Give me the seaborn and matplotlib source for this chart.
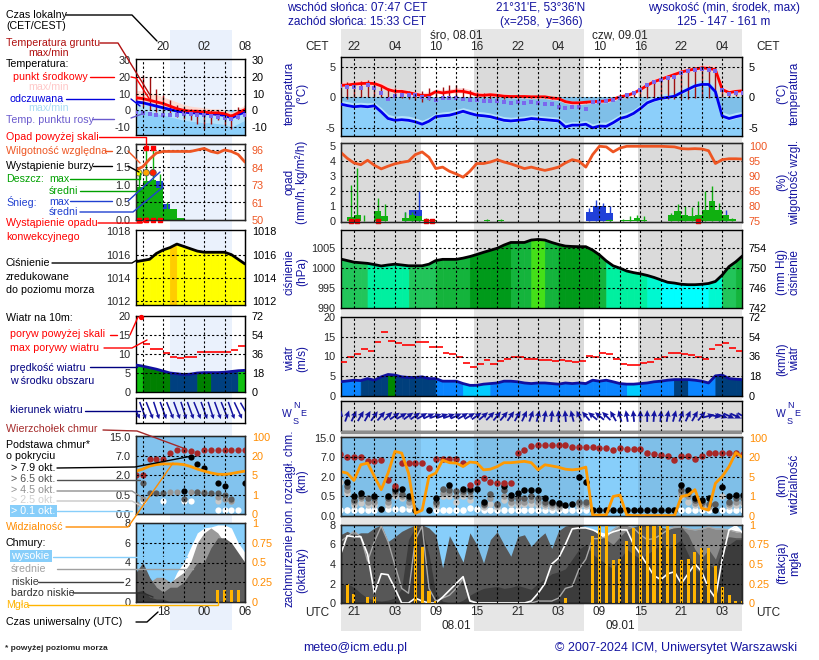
import numpy as np
import matplotlib
matplotlib.use("Agg")
import matplotlib.pyplot as plt
import seaborn as sns
from matplotlib.lines import Line2D
from matplotlib.patches import Rectangle
from matplotlib.transforms import blended_transform_factory

sns.set_style("white")
plt.rcParams['font.family'] = ['Liberation Sans', 'DejaVu Sans']
plt.rcParams['axes.unicode_minus'] = False

nan = np.nan
NAVY = '#1414a0'

# ---------------- main meteogram data (hourly, UTC hours from 08.01 00:00) ----------------
hours = np.arange(-5, 55)
sunrise = [6.78, 30.77]
sunset = [14.55, 38.58]
label_t = [-3, 3, 9, 15, 21, 27, 33, 39, 45, 51]
cet_labels = ['22', '04', '10', '16', '22', '04', '10', '16', '22', '04']
utc_labels = ['21', '03', '09', '15', '21', '03', '09', '15', '21', '03']
day_t = [12, 36]
cet_days = ['śro, 08.01', 'czw, 09.01']
utc_days = ['08.01', '09.01']

# temperature (°C)
t_mid = [2.0, 2.05, 2.2, 2.3, 2.35, 2.3, 1.9, 1.3, 1.0, 1.0,
         0.8, 0.55, 0.3, 0.35, 0.95, 0.75, 0.9, 1.05, 1.0, 0.75,
         0.4, 0.35, 0.45, 0.35, 0.2, 0.15, 0.15, 0.15, 0.1, 0.1,
         0.1, -0.1, -0.2, -0.7, -0.9, -0.9, -0.8, -0.7, -0.65, -0.6,
         -0.3, 0.1, 0.3, 0.7, 1.3, 2.0, 2.6, 3.0, 3.4, 3.8,
         4.2, 4.5, 4.7, 4.9, 4.8, 4.6, 1.3, 0.8, 1.0, 1.1]
t_max = [2.6, 2.7, 2.8, 2.9, 3.0, 2.9, 2.5, 1.9, 1.5, 1.4,
         1.2, 1.0, 0.8, 0.9, 1.4, 1.3, 1.4, 1.6, 1.6, 1.3,
         0.9, 0.8, 0.8, 0.7, 0.6, 0.5, 0.5, 0.5, 0.4, 0.4,
         0.4, 0.2, 0.1, -0.4, -0.6, -0.6, -0.5, -0.4, -0.4, -0.3,
         0.0, 0.4, 0.7, 1.1, 1.8, 2.5, 3.1, 3.5, 3.9, 4.3,
         4.7, 5.0, 5.2, 5.4, 5.4, 5.3, 2.0, 1.3, 1.4, 1.5]
t_min = [1.8, 1.8, 1.9, 2.0, 2.0, 1.9, 1.6, 1.0, 0.7, 0.7,
         0.5, 0.3, 0.0, 0.1, 0.7, 0.5, 0.6, 0.8, 0.7, 0.5,
         0.2, 0.1, 0.2, 0.1, 0.0, -0.1, -0.1, -0.1, -0.2, -0.2,
         -0.2, -0.4, -0.5, -1.0, -1.2, -1.2, -1.1, -1.0, -0.9, -0.9,
         -0.6, -0.2, 0.0, 0.4, 1.0, 1.7, 2.3, 2.7, 3.1, 3.5,
         3.9, 4.2, 4.4, 4.6, 4.5, 4.2, 1.0, 0.5, 0.7, 0.8]
t_feel = [-1.1, -1.35, -1.55, -1.45, -1.55, -1.4, -2.4, -3.5, -3.8, -3.7,
          -3.8, -4.05, -4.45, -3.95, -3.2, -3.05, -2.95, -2.65, -2.3, -2.65,
          -2.95, -3.05, -3.2, -3.5, -3.8, -3.9, -3.8, -3.7, -3.5, -3.6,
          -3.7, -3.8, -3.9, -4.9, -4.6, -4.6, -4.45, -5.05, -4.75, -4.8,
          -4.2, -3.5, -3.2, -2.65, -1.85, -0.9, -0.45, -0.15, 0.0, 0.2,
          0.8, 1.35, 1.9, 2.15, 2.15, 0.95, -3.1, -3.5, -3.2, -2.95]
f_max = [-0.5, -0.7, -0.9, -0.8, -0.9, -0.8, -1.7, -2.8, -3.1, -3.0,
         -3.1, -3.4, -3.8, -3.3, -2.6, -2.4, -2.3, -2.0, -1.7, -2.0,
         -2.3, -2.4, -2.6, -2.9, -3.2, -3.3, -3.2, -3.1, -2.9, -3.0,
         -3.1, -3.2, -3.3, -4.2, -4.0, -4.0, -3.8, -4.4, -4.1, -4.1,
         -3.5, -2.8, -2.5, -2.0, -1.2, -0.3, 0.2, 0.5, 0.7, 0.9,
         1.5, 2.0, 2.6, 2.9, 2.9, 1.7, -2.4, -2.8, -2.5, -2.3]
f_min = [-1.4, -1.6, -1.8, -1.7, -1.8, -1.7, -2.7, -3.8, -4.1, -4.0,
         -4.1, -4.3, -4.7, -4.2, -3.5, -3.3, -3.2, -2.9, -2.6, -2.9,
         -3.2, -3.3, -3.5, -3.8, -4.1, -4.2, -4.1, -4.0, -3.8, -3.9,
         -4.0, -4.1, -4.2, -5.2, -4.9, -4.9, -4.7, -5.3, -5.0, -5.1,
         -4.5, -3.8, -3.5, -2.9, -2.1, -1.2, -0.7, -0.4, -0.3, -0.1,
         0.5, 1.1, 1.6, 1.9, 1.9, 0.7, -3.4, -3.8, -3.5, -3.2]
t_dew = [1.9, 1.8, 1.65, 1.5, 2.05, 1.5, 0.8, -0.2, 0.2, 0.4,
         0.45, 0.4, 0.1, -0.05, -0.45, -0.15, -0.05, -0.05, -0.3, -0.45,
         -0.45, -0.55, -0.6, -0.6, -0.7, -0.85, -0.7, -0.9, -0.8, -1.0,
         -1.1, -1.1, -1.55, -1.7, -1.55, -1.65, -1.85, -0.7, -0.7, -0.6,
         -0.45, -0.05, 0.4, 0.8, 1.3, 2.05, 2.5, 2.9, 3.2, 3.45,
         4.0, 4.3, 4.55, 4.65, 4.55, 4.3, 1.2, 0.55, 0.65, 0.65]
g_max = [2.5, 2.6, 2.6, 2.7, 2.9, 2.4, 2.0, 1.5, 1.5, 1.3,
         1.0, 0.8, 1.0, 1.5, 1.0, 1.8, 2.0, 2.0, 1.5, 1.2,
         0.9, 0.7, 0.5, 0.4, 0.3, 0.2, 0.2, 0.2, 0.2, 0.1,
         0.1, 0.0, -0.1, -0.6, -0.8, -0.8, -0.7, -0.6, -0.5, -0.3,
         0.0, 0.3, 0.6, 1.0, 1.6, 2.3, 2.9, 3.3, 3.7, 4.1,
         4.5, 4.8, 5.0, 5.2, 5.2, 5.0, 1.5, 1.0, 1.2, 1.2]
g_min = [-0.2, -0.2, 0.0, 0.0, 0.1, 0.1, 0.0, 0.0, -0.1, -0.1,
         -0.2, -0.4, -0.7, -0.4, -0.2, -0.1, 0.0, 0.0, 0.0, -0.2,
         -0.3, -0.3, -0.2, -0.2, -0.2, -0.1, -0.1, -0.1, -0.1, -0.1,
         -0.1, -0.3, -0.4, -0.8, -1.0, -1.0, -0.9, -0.8, -0.7, -0.5,
         -0.3, -0.2, -0.1, 0.0, 0.0, -0.1, -0.1, -0.2, -0.2, -0.2,
         -0.2, -0.2, -0.1, -0.1, -0.1, 0.0, 0.0, 0.1, 0.3, 0.3]

# precipitation (mm/h) and relative humidity (%)
rain_mean = [0, 0.22, 0.36, 0, 0, 0.63, 0.3, 0, 0, 0.15,
             0.4, 0.3, 0.05, 0.02, 0, 0, 0, 0, 0, 0,
             0, 0.02, 0, 0.02, 0, 0, 0, 0, 0, 0,
             0, 0, 0, 0, 0, 0, 0, 0, 0, 0.02,
             0, 0.02, 0.05, 0.15, 0.05, 0, 0, 0, 0.36, 0.67,
             0.4, 0.3, 0.36, 0.75, 1.3, 0.75, 0.35, 0.1, 0, 0]
rain_max = [0, 2.4, 3.55, 0.35, 0, 1.5, 1.15, 0, 0, 0.6,
            0.6, 0.25, 0.2, 0.1, 0, 0, 0, 0, 0, 0,
            0, 0.1, 0, 0.1, 0, 0, 0, 0, 0, 0,
            0, 0, 0, 0, 0, 0, 0, 0, 0, 0.1,
            0, 0.1, 0.3, 0.4, 0.3, 0, 0, 0, 0.5, 1.1,
            1.0, 0.9, 1.3, 2.0, 2.3, 1.2, 0.4, 0.2, 0, 0]
snow_mean = [0, 0, 0, 0, 0, 0, 0, 0, 0, 0.1,
             0.7, 0.7, 0, 0, 0, 0, 0, 0, 0, 0,
             0, 0, 0, 0, 0, 0, 0, 0, 0, 0,
             0, 0, 0, 0, 0, 0, 0.55, 1.0, 0.98, 0.5,
             0, 0, 0, 0, 0, 0, 0, 0, 0, 0,
             0, 0, 0, 0, 0, 0.05, 0, 0, 0, 0]
snow_max = [0, 0, 0, 0, 0, 0, 0, 0, 0, 0.6,
            0.75, 2.0, 0, 0, 0, 0, 0, 0, 0, 0,
            0, 0, 0, 0, 0, 0, 0, 0, 0, 0,
            0, 0, 0, 0, 0, 0, 0.85, 1.4, 1.2, 1.0,
            0, 0, 0, 0, 0, 0, 0, 0, 0, 0,
            0, 0, 0, 0, 0, 0.75, 0.7, 0, 0, 0]
conv_t = [-3.5, -2.5, 0.5, 7.5, 8.5, 47.5]
rh = [98.1, 96.0, 94.4, 93.8, 95.3, 93.6, 92.4, 93.3, 94.1, 94.6,
      95.0, 97.2, 98.1, 96.3, 92.5, 93.0, 91.6, 90.7, 89.6, 91.6,
      94.2, 94.2, 94.7, 95.5, 94.7, 94.1, 93.3, 92.5, 93.0, 92.4,
      91.9, 92.4, 93.0, 94.4, 95.5, 95.0, 93.0, 97.2, 100.0, 99.8,
      98.1, 99.4, 100.0, 100.0, 100.0, 100.0, 100.0, 100.0, 99.9, 99.8,
      99.2, 99.1, 99.2, 99.1, 98.5, 94.2, 95.5, 95.8, 95.8, 95.7]

# sea level pressure (hPa) and colour class of the fill
pres = [1002.2, 1001.8, 1001.4, 1001.25, 1001.1, 1000.8, 1000.45, 1000.7, 1000.9, 1000.7,
        1000.5, 1000.5, 1000.5, 1000.9, 1001.8, 1002.1, 1002.1, 1002.1, 1002.4, 1002.8,
        1003.3, 1003.85, 1004.35, 1004.85, 1005.65, 1006.3, 1006.3, 1006.3, 1006.9, 1007.05,
        1006.9, 1006.3, 1005.8, 1005.4, 1005.3, 1005.25, 1005.25, 1004.4, 1003.2, 1001.7,
        1000.5, 999.9, 999.2, 998.8, 998.5, 998.1, 997.6, 997.0, 996.4, 996.2,
        995.9, 995.8, 995.8, 995.9, 996.1, 996.6, 998.2, 1000.3, 1001.5, 1003.0]
p_ticks = [990, 995, 1000, 1005]
p_mmhg = ['742', '746', '750', '754']
p_pal = ['#00ffff', '#00f0a0', '#22c55a', '#14b43c', '#009a1a', '#44e018', '#00f8d0']
p_col = [2, 2, 2, 2, 1, 1, 1, 1, 1, 1,
         2, 2, 2, 2, 3, 3, 3, 3, 3, 4,
         4, 4, 4, 4, 4, 3, 3, 3, 5, 5,
         3, 3, 4, 4, 4, 4, 4, 4, 3, 1,
         1, 1, 1, 1, 1, 6, 6, 0, 0, 0,
         0, 0, 0, 0, 6, 6, 2, 2, 3, 3]

# wind (m/s), gusts and direction the arrow points to (deg)
wind = [3.6, 3.8, 4.0, 3.9, 4.4, 4.0, 4.85, 5.45, 5.3, 4.85,
        4.7, 4.7, 4.85, 4.4, 4.4, 3.75, 3.75, 3.75, 3.15, 2.7,
        2.7, 3.0, 3.15, 3.3, 3.75, 3.75, 3.6, 3.3, 3.15, 3.3,
        3.3, 3.15, 3.0, 3.3, 3.15, 3.3, 3.15, 4.0, 3.75, 4.0,
        3.6, 3.15, 3.0, 3.0, 3.15, 3.3, 3.6, 3.75, 4.0, 4.15,
        4.15, 4.15, 4.0, 3.75, 3.3, 5.1, 5.3, 4.4, 4.25, 4.15]
gust = [8.5, 9.8, 10.7, 11.9, 11.4, 13.7, 16.3, 14.0, 13.3, 12.8,
        12.8, 13.7, 13.7, 12.4, 12.4, 10.9, 10.7, 9.8, 8.3, 7.3,
        8.1, 9.0, 8.1, 8.9, 9.4, 9.8, 9.8, 9.4, 9.4, 9.0,
        9.0, 8.75, 9.0, 8.75, 8.5, 8.75, 10.2, 10.0, 10.9, 10.7,
        9.4, 8.1, 7.9, 7.9, 8.3, 8.5, 9.4, 10.0, 10.9, 10.9,
        10.7, 10.5, 10.0, 9.4, 11.9, 12.8, 13.4, 12.2, 11.4, 11.4]
w_pal = {'b': '#0a84ff', 'n': '#003f7c', 'g': '#008800', 'c': '#00ccff'}
w_col = ['b', 'b', 'b', 'n', 'n', 'n', 'n', 'g', 'n', 'n',
         'n', 'n', 'n', 'n', 'b', 'b', 'b', 'b', 'c', 'c',
         'c', 'c', 'b', 'b', 'b', 'b', 'b', 'b', 'b', 'b',
         'b', 'b', 'b', 'b', 'b', 'b', 'b', 'b', 'b', 'b',
         'b', 'b', 'c', 'c', 'b', 'b', 'b', 'b', 'b', 'n',
         'n', 'b', 'b', 'b', 'b', 'n', 'n', 'n', 'n', 'n']
w_dir = [10, 20, 25, 30, 30, 35, 40, 45, 55, 60,
         55, 55, 60, 65, 70, 70, 70, 65, 60, 60,
         55, 50, 45, 40, 40, 35, 30, 25, 20, 15,
         10, 5, 0, -5, -15, -25, -40, -50, -50, -45,
         -30, -15, -10, -5, 0, 0, 5, 5, 10, 15,
         20, 25, 30, 40, 75, 100, 110, 115, 115, 120]

# cloud top and cloud base (km) by cover class, visibility (km)
c_top = [8.6, 7.4, 7.1, 7.4, 6.0, 6.0, 6.4, 1.78, 1.32, 5.7,
         5.7, 5.7, 5.5, 4.25, 6.6, 6.6, 6.6, 6.6, 5.5, 1.4,
         1.65, 1.9, 1.65, 1.5, 1.5, 1.5, 9.0, 9.9, 11.8, 12.2,
         12.2, 12.2, 12.2, 12.2, 11.5, 11.5, 11.5, 11.5, 10.8, 10.8,
         10.2, 10.8, 10.5, 10.5, 10.5, 8.8, 8.6, 8.2, 7.8, 6.4,
         7.8, 7.8, 6.6, 7.8, 8.8, 8.8, 9.0, 9.0, 8.8, 8.6]
b79 = [nan, 1.65, 0.55, 0.75, nan, 0.55, 0.18, 0.55, 1.1, 1.1,
       0.55, 0.15, nan, 0.15, 0.45, nan, 1.4, nan, 1.1, 1.1,
       1.1, 0.37, nan, nan, 1.3, 0.6, 0.75, 1.0, 1.0, 1.0,
       0.45, 0.37, 0.33, 0.28, 0.3, 2.1, 1.6, 0.15, 0.15, 0.15,
       0.15, 0.15, 0.15, 0.15, 0.15, 0.15, 0.15, 0.15, 0.15, 0.15,
       1.4, 1.0, 0.45, 0.41, 0.45, 0.15, 1.25, 0.55, 0.6, 0.65]
b65 = [nan, 1.3, 0.42, 0.55, 0.45, 0.45, nan, 0.45, 0.9, 0.7,
       0.45, nan, nan, nan, 0.37, 1.1, 1.0, 0.9, 0.9, 0.9,
       nan, 0.3, 0.7, 0.3, 1.0, 0.45, 0.45, 0.45, 0.5, 0.45,
       0.37, 0.33, 0.3, nan, nan, 0.37, 0.37, nan, nan, nan,
       nan, nan, nan, nan, nan, nan, nan, nan, nan, nan,
       1.0, 0.75, 0.4, 0.37, 0.3, 0.3, nan, 0.37, 0.45, 0.45]
b45 = [nan, 1.0, 0.37, 0.45, 0.37, 0.37, nan, 0.37, 0.7, 0.55,
       0.37, nan, nan, nan, 0.3, 0.75, 0.75, 0.55, 0.7, 0.55,
       nan, 0.28, 0.45, 0.28, 0.55, 0.37, 0.37, 0.37, 0.4, 0.37,
       0.3, 0.28, 0.25, nan, nan, 0.3, 0.3, nan, nan, nan,
       nan, nan, nan, nan, nan, nan, nan, nan, nan, nan,
       0.75, 0.55, 0.33, 0.3, 0.25, nan, nan, 0.3, 0.37, 0.37]
b25 = [1.6, 0.75, 0.28, 0.33, 0.28, 0.28, nan, 0.28, 0.55, 0.45,
       0.28, nan, nan, nan, 0.25, 0.55, 0.55, 0.37, 0.55, 0.4,
       nan, 0.22, 0.3, 0.22, 0.4, 0.3, 0.28, 0.3, 0.3, 0.28,
       0.25, 0.22, 0.2, nan, nan, 0.25, 0.25, nan, nan, nan,
       nan, nan, nan, nan, nan, nan, nan, nan, nan, nan,
       0.55, 0.37, 0.28, 0.25, 0.22, nan, 0.55, 0.25, 0.28, 0.3]
b01 = [0.15, 0.15, 0.15, 0.15, 0.15, 0.15, nan, 0.18, 0.18, 0.17,
       0.17, nan, nan, nan, 0.15, 0.15, 0.15, 0.15, 0.15, 0.2,
       0.18, 0.15, 0.15, 0.16, 0.15, 0.16, 0.15, 0.15, 0.15, 0.15,
       0.15, 0.15, 0.15, 0.15, 0.15, 0.15, 0.15, nan, nan, nan,
       nan, nan, nan, nan, nan, nan, nan, nan, nan, nan,
       0.15, 0.15, 0.15, 0.15, 0.15, nan, 0.15, 0.15, 0.15, 0.15]
vis = [9.2, 8.0, 4.3, 14.4, 15.7, 5.4, 2.4, 8.0, 45, 38,
       8.0, 0.14, 0.3, 5.4, 8.0, 18, 16, 15.7, 13, 16.5,
       16, 10.5, 11, 13, 16, 16, 16.5, 17, 16, 10.5,
       14.4, 13.5, 12.5, 11, 10.5, 11, 12.6, 0.05, 0.05, 0.05,
       1.0, 1.3, 0.05, 0.02, 0.02, 0.02, 0.02, 0.02, 0.02, 0.02,
       1.0, 1.3, 2.4, 0.4, 0.3, 3.7, 5.4, 13, 40, 20]

# cloud cover (octas) per level and fog fraction
cc_high = [4.9, 6.9, 6.8, 6.8, 5.0, 1.0, 3.0, 2.9, 1.5, 0.0,
           0.0, 0.5, 0.2, 0.0, 0.0, 0.6, 1.3, 2.0, 2.7, 0.2,
           0, 0, 0, 0, 0, 0, 0, 0, 0.2, 1.0,
           2.0, 4.0, 4.6, 6.0, 7.6, 7.7, 7.7, 7.5, 7.2, 7.0,
           7.3, 7.5, 7.5, 6.0, 5.0, 3.9, 2.8, 2.4, 3.0, 3.2,
           2.0, 3.0, 4.0, 3.2, 1.5, 0.5, 4.5, 7.5, 7.9, 7.2]
cc_mid = [6.3, 6.8, 7.35, 6.8, 4.3, 6.3, 7.9, 6.3, 3.9, 1.5,
          1.0, 6.5, 7.9, 1.5, 0.2, 0.5, 0.8, 1.5, 2.5, 0.3,
          0, 0, 0, 0, 0, 0, 0, 0, 0, 0.2,
          0.2, 0.2, 0.5, 1.5, 1.7, 3.5, 4.5, 6.6, 6.6, 6.8,
          7.5, 8.0, 8.0, 7.7, 7.0, 6.5, 6.6, 7.0, 7.5, 7.8,
          7.8, 7.6, 7.5, 7.6, 7.8, 7.6, 7.6, 7.5, 7.3, 7.2]
cc_low = [7.0, 7.35, 7.0, 7.2, 7.2, 7.7, 8.0, 6.3, 6.8, 7.35,
          7.7, 8.0, 8.0, 7.7, 7.0, 3.6, 6.9, 5.6, 4.2, 7.2,
          6.0, 4.1, 6.5, 7.3, 6.0, 4.8, 6.8, 7.0, 5.8, 6.6,
          7.2, 5.6, 7.4, 7.9, 8.0, 8.0, 7.8, 7.5, 7.0, 6.5,
          6.0, 6.8, 7.5, 7.8, 8.0, 8.0, 8.0, 7.8, 7.6, 7.7,
          7.8, 7.0, 5.5, 4.6, 5.5, 4.5, 6.5, 6.8, 6.7, 6.7]
cc_vlow = [1.8, 2.0, 1.6, 1.0, 0.5, 0.3, 0.2, 0.3, 0.5, 1.5,
           6.5, 7.8, 7.5, 5.0, 1.0, 0.2, 0.0, 0.0, 0.3, 0.8,
           1.2, 1.5, 1.6, 1.7, 1.5, 1.6, 1.8, 1.6, 1.4, 2.0,
           2.5, 3.0, 3.2, 3.5, 4.5, 5.5, 6.0, 5.0, 4.5, 4.0,
           3.5, 4.5, 5.5, 5.0, 4.5, 5.0, 5.5, 6.0, 5.5, 6.0,
           6.5, 5.0, 3.5, 3.0, 4.0, 3.5, 5.5, 6.0, 6.5, 6.5]
fog = [0.23, 0.245, 0.12, 0, 0.08, 0.08, 0, 0, 0, 0,
       0, 1.0, 0.72, 0.15, 0.02, 0, 0, 0, 0, 0,
       0, 0, 0, 0, 0, 0, 0, 0, 0, 0,
       0, 0, 0, 0.06, 0, 0, 0, 0.86, 1.0, 1.0,
       0.55, 0.56, 0.8, 0.96, 1.0, 1.0, 1.0, 1.0, 1.0, 0.88,
       0.55, 0.57, 0.65, 0.7, 0.7, 0.48, 0.2, 0.1, 0.03, 0.03]

# ---------------- small legend meteogram data ----------------
m_h = np.arange(17)
m_top_labels = ['20', '02', '08']
m_bot_labels = ['18', '00', '06']
m_label_h = [4, 10, 16]
m_temp = [7.5, 7.0, 6.0, 5.0, 4.0, 2.5, 1.0, 0.0, -0.5, -0.5, -1.0, -1.5, -1.5, -2.0, -3.5, -1.5, 0.5]
m_tmax = [12, 11.5, 10.5, 9.5, 8, 6.5, 5, 3.5, 2.5, 2, 1.5, 1, 1, 0.5, -1, 1, 3]
m_tmin = [6, 5.5, 4.5, 3.5, 2.5, 1, -0.5, -1.5, -2, -2, -2.5, -3, -3, -3.5, -5, -3, -1]
m_feel = [5.0, 4.5, 3.5, 2.5, 1.5, 0.5, -0.5, -1.0, -1.5, -1.5, -2.0, -2.0, -2.5, -3.0, -4.5, -2.5, -1.0]
m_fmax = [9, 8, 7, 5.5, 4, 2.5, 1, 0.5, 0, 0, -0.5, -0.5, -1, -1.5, -3, -1, 0.5]
m_fmin = [1, 0, -1, -2, -3, -4, -5, -6, -6.5, -7, -7.5, -7.5, -8, -8.5, -10, -8, -6]
m_dew = [-1.0, -1.5, -2.0, -2.5, -2.5, -2.5, -2.5, -2.0, -2.0, -2.5, -3.0, -3.5, -4.0, -4.5, -5.0, -4.0, -3.0]
m_gmax = [19, 21, 20, 13, 9, 6, 3, 2, 1, 0, 1, 0, 0, -1, -2, 2, 3]
m_gmin = [5, 2, 0, -1, -2, -3, -4, -5, -6, -8, -11, -8, -6, -9, -11, -5, -3]
m_rain = [0.95, 1.1, 1.15, 0.9, 0.3, 0.3, 0.06, 0, 0, 0, 0, 0, 0, 0, 0, 0, 0]
m_snow = [0, 0, 0, 1.1, 0.45, 0, 0, 0, 0, 0, 0, 0, 0, 0, 0, 0, 0]
m_rmax = [1.35, 2.05, 2.05, 1.3, 0.5, 0, 0, 0, 0, 0, 0, 0, 0, 0, 0, 0, 0]
m_rh = [83, 85, 90, 94, 95, 95, 95, 95, 95, 96, 97, 95, 94, 96, 95, 93, 88]
m_storm_h = [0.4, 1.5, 2.5]
m_storm_y = [1.35, 1.35, 1.35]
m_storm_c = ['#ffff00', '#ffa500', '#ff2000']
m_over_h = [1.5, 2.5]
m_over_y = [2.06, 2.06]
m_conv_h = [0.5, 1.5, 2.5, 3.5]
m_pres = [1015.4, 1015.5, 1015.6, 1016.1, 1016.4, 1016.6, 1016.9, 1016.7, 1016.5, 1016.3,
          1016.2, 1016.2, 1016.2, 1016.2, 1016.0, 1015.6, 1015.2]
m_pcol = ['#ffff00'] * 5 + ['#ffcc00'] + ['#ffff00'] * 10
m_wind = [7.1, 6.8, 6.4, 6.0, 5.5, 5.0, 4.8, 4.6, 4.7, 5.0, 5.1, 5.1, 5.1, 5.2, 5.4, 5.6, 5.7]
m_gust = [nan, 12.6, 11.4, 11.4, 10.2, 9.3, 8.9, 9.3, 9.3, 10.5, 10.5, 10.5, 10.4, 10.4, 11.1, 12.2, 12.2]
m_wpal = {'g': '#10c010', 'd': '#008000', 'n': '#004080'}
m_wcol = ['g', 'd', 'd', 'd', 'd', 'n', 'n', 'n', 'n', 'd', 'd', 'n', 'n', 'n', 'n', 'g', 'g']
m_dir = [155, 160, 158, 162, 160, 158, 160, 162, 160, 158, 160, 162, 160, 158, 160, 155, 150]
m_top = [2.0, 2.0, 6.2, 6.2, 6.2, 8.4, 9.4, 9.4, 9.0, 8.4, 9.4, 9.4, 9.4, 9.4, 9.4, 9.4, 9.4]
m_b79 = [nan, nan, nan, nan, nan, nan, nan, 0.8, 6.8, 4.9, 4.0, nan, 1.4, 1.2, nan, nan, 1.4]
m_b65 = [nan, 1.4, 0.65, 0.65, 0.65, nan, nan, 0.4, nan, 0.7, 0.65, 0.65, 0.6, 0.5, 0.4, nan, nan]
m_b45 = [0.25, 0.4, nan, nan, nan, 0.75, 0.75, nan, 0.75, 0.75, 0.75, nan, 0.45, 0.4, 0.35, nan, nan]
m_b25 = [nan, nan, nan, nan, nan, nan, nan, nan, nan, nan, nan, nan, 0.34, nan, 0.34, nan, nan]
m_b01 = [nan, 0.34, nan, nan, 0.34, nan, nan, 0.34, 0.34, nan, nan, nan, 0.1, 0.1, 0.1, 0.1, nan]
m_vis = [8.4, 10, 12.3, 13.5, 14, 14, 14, 13.5, 12, 10, 8.4, 7, 6, 5.8, 6.5, 7.5, 8.4]
m_high = [0, 0, 0, 0, 0.5, 1.5, 3, 4, 5.5, 7, 7.5, 7.6, 7.8, 7.8, 7.5, 6, 5]
m_mid = [1, 1.5, 2, 2.5, 2.5, 2, 2.5, 3, 4, 6, 7, 7.5, 7, 6, 5, 4, 4]
m_low = [3, 4, 2.5, 1.5, 1, 1.5, 1.5, 2, 3, 4, 4, 5.5, 6.5, 6.5, 6, 5, 4]
m_vlow = [1, 1.2, 0.5, 0.3, 0.3, 0, 0, 0, 0, 0, 0, 0, 0, 0, 0, 0, 0]
m_fog = [0, 0, 0, 0, 0, 0, 0, 0, 0, 0, 0, 0, 0.15, 0.15, 0.15, 0.15, 0]

# ---------------- figure helpers ----------------
W, H = 820, 660
fig = plt.figure(figsize=(W / 100, H / 100), dpi=100)
fig.patch.set_facecolor('white')
TICK = 7.8


def rect(x0, y0, x1, y1):
    return [x0 / W, 1 - y1 / H, (x1 - x0) / W, (y1 - y0) / H]


def ftext(x, y, s, **kw):
    kw.setdefault('va', 'center')
    kw.setdefault('fontsize', 8)
    fig.text(x / W, 1 - y / H, s, **kw)


def fline(pts, color, lw=1):
    fig.add_artist(Line2D([p[0] / W for p in pts], [1 - p[1] / H for p in pts],
                          color=color, lw=lw, transform=fig.transFigure, zorder=20))


def frect(x0, y0, x1, y1, color, z=-10):
    fig.add_artist(Rectangle((x0 / W, 1 - y1 / H), (x1 - x0) / W, (y1 - y0) / H,
                             transform=fig.transFigure, color=color, lw=0, zorder=z))


XL = (-4.9, 53.9)
grid_t = np.arange(-3, 52, 3)
mini_gt = [1, 4, 7, 10, 13]
DASH = dict(color='black', lw=0.8, ls=(0, (2, 2)), zorder=8)


def style(ax):
    ax.set_xticks([])
    ax.set_xlabel('')
    ax.set_ylabel('')
    ax.tick_params(axis='y', length=0, pad=4, labelsize=TICK)
    for s in ax.spines.values():
        s.set_color('black')
        s.set_linewidth(1)


def panel(y0, y1, night='#dadada', day='white'):
    ax = fig.add_axes(rect(341, y0, 742, y1))
    ax.set_xlim(XL)
    ax.set_facecolor(night)
    for a, b in zip(sunrise, sunset):
        ax.axvspan(a, b, color=day, lw=0, zorder=0)
    style(ax)
    return ax


def mini(y0, y1, face=None):
    ax = fig.add_axes(rect(136, y0, 245, y1))
    ax.set_xlim(0, 16)
    if face is None:
        ax.patch.set_alpha(0)
    else:
        ax.set_facecolor(face)
    style(ax)
    return ax


def grid(ax, ys, ts=grid_t):
    for t in ts:
        ax.axvline(t, **DASH)
    for y in ys:
        ax.axhline(y, **DASH)


def right_axis(ax, ticks, functions=None, labels=None, color='black'):
    sec = ax.secondary_yaxis('right', functions=functions)
    sec.set_yticks(ticks, labels=labels)
    sec.tick_params(axis='y', length=0, pad=5, labelsize=TICK, labelcolor=color)
    return sec


def twin(ax, color):
    a2 = ax.twinx()
    a2.set_xlim(ax.get_xlim())
    a2.tick_params(axis='y', length=0, pad=5, labelsize=TICK, labelcolor=color)
    a2.set_ylabel('')
    return a2


def fb(v):
    return np.interp(v, [0, 0.5, 2, 7, 15, 31], [0, 1, 2, 3, 4, 6])


def ib(p):
    return np.interp(p, [0, 1, 2, 3, 4, 6], [0, 0.5, 2, 7, 15, 31])


def fv(v):
    return np.interp(v, [0, 1, 5, 20, 100, 260], [0, 1, 2, 3, 4, 6])


def iv(p):
    return np.interp(p, [0, 1, 2, 3, 4, 6], [0, 1, 5, 20, 100, 260])


# ---------------- backgrounds ----------------
frect(170, 30, 232, 630, '#eaf1fc')
bg = fig.add_axes(rect(341, 29, 742, 631), zorder=-5)
bg.set_xlim(XL)
bg.set_ylim(0, 1)
bg.axis('off')
bg.axvspan(XL[0], XL[1], color='#e6e6e6', lw=0)
for a, b in zip(sunrise, sunset):
    bg.axvspan(a, b, color='white', lw=0)
tr = blended_transform_factory(bg.transData, fig.transFigure)
for t, s1, s2 in zip(label_t, cet_labels, utc_labels):
    bg.text(t, 1 - 47 / H, s1, transform=tr, ha='center', va='center', fontsize=8.5)
    bg.text(t, 1 - 612 / H, s2, transform=tr, ha='center', va='center', fontsize=8.5)
for t, s1, s2 in zip(day_t, cet_days, utc_days):
    bg.text(t, 1 - 36 / H, s1, transform=tr, ha='center', va='center', fontsize=8.5)
    bg.text(t, 1 - 626 / H, s2, transform=tr, ha='center', va='center', fontsize=8.5)
for x in (317, 768):
    ftext(x, 47, 'CET', ha='center', fontsize=8.5)
    ftext(x, 613, 'UTC', ha='center', fontsize=8.5)

# ---------------- temperature ----------------
ax = panel(57, 136)
lo = -6.4
ax.set_ylim(lo, 6.7)
ax.axhspan(lo, 0, color='#7fbfe8', lw=0, zorder=0.5)
ax.fill_between(hours, lo, f_min, color='#8ccffa', lw=0, zorder=1)
ax.fill_between(hours, f_min, f_max, color='#b4e2fb', lw=0, zorder=1.1)
ax.fill_between(hours, t_min, t_max, color='#ffd0d0', lw=0, alpha=0.85, zorder=1.2)
ax.vlines(hours, g_min, g_max, color='#a01010', lw=1, zorder=3)
sns.lineplot(x=hours, y=t_feel, ax=ax, color='#0000ee', lw=2, zorder=4)
sns.lineplot(x=hours, y=t_mid, ax=ax, color='#ff0000', lw=2, zorder=4.5)
sns.scatterplot(x=hours, y=t_dew, ax=ax, color='#7b68ee', s=11, marker='s', linewidth=0, zorder=5)
ax.set_yticks([-5, 0, 5])
grid(ax, [-5, 0, 5])
right_axis(ax, [-5, 0, 5])

# ---------------- precipitation / humidity ----------------
ax = panel(143, 222)
ax.set_ylim(-0.09, 5.22)
ax.bar(hours, snow_mean, width=1, align='edge', color='#2040d8', lw=0, zorder=2)
ax.vlines(hours + 0.5, 0, snow_max, color='#2040d8', lw=1, zorder=2.1)
ax.bar(hours, rain_mean, width=1, align='edge', color='#10b010', lw=0, zorder=2.2)
ax.vlines(hours + 0.5, 0, rain_max, color='#10b010', lw=1, zorder=2.3)
ax.scatter(conv_t, np.zeros(len(conv_t)), marker='s', s=7, color='#e00000', zorder=9, clip_on=False)
ax.set_yticks([0, 1, 2, 3, 4, 5])
grid(ax, [1, 2, 3, 4])
ax2 = twin(ax, '#ee5522')
ax2.set_ylim(75 + 5 * np.array(ax.get_ylim()))
sns.lineplot(x=hours, y=rh, ax=ax2, color='#ee5522', lw=2)
ax2.set_yticks([75, 80, 85, 90, 95, 100])
ax2.set_ylabel('')

# ---------------- pressure ----------------
ax = panel(230, 308)
ax.set_ylim(990, 1009.4)
for i in range(len(hours) - 1):
    c = p_pal[p_col[i]]
    ax.fill_between(hours[i:i + 2], 990, pres[i:i + 2], color=c, ec=c, lw=0.6, zorder=1)
sns.lineplot(x=hours, y=pres, ax=ax, color='black', lw=2, zorder=4)
ax.set_yticks(p_ticks)
grid(ax, p_ticks[1:])
right_axis(ax, p_ticks, labels=p_mmhg)

# ---------------- wind ----------------
ax = panel(317, 396)
ax.set_ylim(0, 20)
for i in range(len(hours) - 1):
    c = w_pal[w_col[i]]
    ax.fill_between(hours[i:i + 2], 0, wind[i:i + 2], color=c, ec=c, lw=0.6, zorder=1)
sns.lineplot(x=hours, y=wind, ax=ax, color='#1010a0', lw=2, zorder=4)
ax.hlines(gust, hours, hours + 1, color='#ff0000', lw=1.2, zorder=4)
ax.set_yticks([0, 5, 10, 15, 20])
grid(ax, [5, 10, 15])
right_axis(ax, [0, 18, 36, 54, 72], functions=(lambda v: v * 3.6, lambda k: k / 3.6))

# ---------------- wind direction ----------------
ax = panel(401, 431)
ax.set_ylim(-1, 1)
ax.set_yticks([])
rad = np.deg2rad(w_dir)
ax.quiver(hours, np.zeros(len(hours)), np.sin(rad), np.cos(rad), angles='uv', pivot='middle',
          scale=8.5, scale_units='inches', color='#1414a0', width=0.0045,
          headwidth=3.4, headlength=3.6, headaxislength=3.2, zorder=5)
grid(ax, [])
frect(341, 431, 742, 434, '#8c8c8c', z=5)

# ---------------- cloud base / visibility ----------------
ax = panel(437, 516, night='#7fbfe8', day='#87cefa')
ax.set_yscale('function', functions=(fb, ib))
ax.set_ylim(0, 15.4)
for vals, col in [(b01, 'white'), (b25, '#c8c8c8'), (b45, '#969696'),
                  (b65, '#5a5a5a'), (b79, 'black'), (c_top, '#a82828')]:
    sns.scatterplot(x=hours, y=vals, ax=ax, color=col, s=22, linewidth=0, zorder=5)
ax.set_yticks([0, 0.5, 2, 7, 15], labels=['0.0', '0.5', '2.0', '7.0', '15.0'])
ax.set_ylabel('')
grid(ax, [0.5, 2, 7])
ax2 = twin(ax, '#ff8c00')
ax2.set_yscale('function', functions=(fv, iv))
ax2.set_ylim(0, 104)
sns.lineplot(x=hours, y=vis, ax=ax2, color='#ff9900', lw=2)
ax2.set_yticks([0, 1, 5, 20, 100], labels=['0', '1', '5', '20', '100'])
ax2.set_ylabel('')

# ---------------- cloud cover / fog ----------------
ax = panel(525, 603, night='#7fbfe8', day='#87cefa')
ax.set_ylim(0, 8)
ax.fill_between(hours, 0, cc_high, color='white', lw=0, zorder=1)
ax.fill_between(hours, 0, cc_mid, color='#8a8a8a', lw=0, zorder=1.1)
ax.fill_between(hours, 0, cc_low, color='#575757', lw=0, zorder=1.2)
ax.fill_between(hours, 0, cc_vlow, color='#3c3c3c', lw=0, zorder=1.3)
sns.lineplot(x=hours, y=cc_mid, ax=ax, color='#a8a8a8', lw=1, zorder=3)
sns.lineplot(x=hours, y=cc_high, ax=ax, color='white', lw=1.2, zorder=3.1)
ax.set_yticks([0, 2, 4, 6, 8])
ax.set_ylabel('')
ax2 = twin(ax, '#ff8c00')
ax2.set_ylim(0, 1)
ax2.bar(hours, fog, width=0.45, color='#ffb400', lw=0, zorder=2)
ax2.set_yticks([0, 0.25, 0.5, 0.75, 1], labels=['0', '0.25', '0.5', '0.75', '1'])
grid(ax2, [0.25, 0.5, 0.75])

# ---------------- axis titles ----------------
left_titles = [(93, 'temperatura', '(°C)'), (182, 'opad', '(mm/h, kg/m²/h)'),
               (272, 'ciśnienie', '(hPa)'), (359, 'wiatr', '(m/s)'),
               (481, 'pion. rozciągł. chm.', '(km)'), (570, 'zachmurzenie', '(oktanty)')]
right_titles = [(93, '(°C)', 'temperatura'), (182, '(%)', 'wilgotność wzgl.'),
                (272, '(mm Hg)', 'ciśnienie'), (359, '(km/h)', 'wiatr'),
                (485, '(km)', 'widzialność'), (563, '(frakcja)', 'mgła')]
for y, a, b in left_titles:
    ftext(290, y, a, rotation=90, ha='center', color=NAVY, fontsize=8.5)
    ftext(302, y, b, rotation=90, ha='center', color=NAVY, fontsize=8.5)
for y, a, b in right_titles:
    ftext(782, y, a, rotation=90, ha='center', color=NAVY, fontsize=8.5)
    ftext(795, y, b, rotation=90, ha='center', color=NAVY, fontsize=8.5)
for xc in (293, 787):
    ftext(xc - 6, 414, 'W', ha='center', color=NAVY, fontsize=7.5)
    ftext(xc + 4, 406, 'N', ha='center', color=NAVY, fontsize=6.5)
    ftext(xc + 10, 414, 'E', ha='center', color=NAVY, fontsize=6.5)
    ftext(xc + 3, 422, 'S', ha='center', color=NAVY, fontsize=6.5)

# ---------------- header / footer ----------------
ftext(357, 8, 'wschód słońca: 07:47 CET', ha='center', color=NAVY, fontsize=8.5)
ftext(357, 22, 'zachód słońca: 15:33 CET', ha='center', color=NAVY, fontsize=8.5)
ftext(541, 8, "21°31'E, 53°36'N", ha='center', color=NAVY, fontsize=8.5)
ftext(541, 22, '(x=258,  y=366)', ha='center', color=NAVY, fontsize=8.5)
ftext(724, 8, 'wysokość (min, środek, max)', ha='center', color=NAVY, fontsize=8.5)
ftext(724, 22, '125 - 147 - 161 m', ha='center', color=NAVY, fontsize=8.5)
ftext(355, 648, 'meteo@icm.edu.pl', ha='center', color=NAVY, fontsize=9)
ftext(676, 648, '© 2007-2024 ICM, Uniwersytet Warszawski', ha='center', color=NAVY, fontsize=9)
ftext(5, 648, '* powyżej poziomu morza', fontsize=6, fontweight='bold')

# ---------------- legend mini meteogram ----------------
ax = mini(59, 135)
mlo = -14.7
ax.set_ylim(mlo, 30.6)
ax.axhspan(mlo, 0, color='#80c0ea', lw=0, zorder=0.5)
ax.fill_between(m_h, mlo, m_fmin, color='#8ccffa', lw=0, zorder=1)
ax.fill_between(m_h, m_fmin, m_fmax, color='#b4e2fb', lw=0, zorder=1.1)
ax.fill_between(m_h, m_tmin, m_tmax, color='#ffd8cc', lw=0, alpha=0.85, zorder=1.2)
ax.vlines(m_h, m_gmin, m_gmax, color='#a01010', lw=1, zorder=3)
sns.lineplot(x=m_h, y=m_feel, ax=ax, color='#0000ee', lw=2, zorder=4)
sns.lineplot(x=m_h, y=m_temp, ax=ax, color='#ff0000', lw=2, zorder=4.5)
sns.scatterplot(x=m_h, y=m_dew, ax=ax, color='#7b68ee', s=10, marker='s', linewidth=0, zorder=5)
ax.set_yticks([-10, 0, 10, 20, 30])
grid(ax, [-10, 0, 10, 20], ts=mini_gt)
right_axis(ax, [-10, 0, 10, 20, 30])
mtr = blended_transform_factory(ax.transData, fig.transFigure)
for h, s1, s2 in zip(m_label_h, m_top_labels, m_bot_labels):
    ax.text(h, 1 - 47 / H, s1, transform=mtr, ha='center', va='center', fontsize=8.5)
    ax.text(h, 1 - 612 / H, s2, transform=mtr, ha='center', va='center', fontsize=8.5)

ax = mini(144, 220)
ax.set_ylim(0, 2.17)
ax.bar(m_h, m_snow, width=1, align='edge', color='#2040d8', lw=0, zorder=2)
ax.bar(m_h, m_rain, width=1, align='edge', color='#10b010', lw=0, zorder=2.1)
ax.vlines(m_h + 0.5, 0, m_rmax, color='#10b010', lw=1, zorder=2.2)
ax.scatter(m_storm_h, m_storm_y, c=m_storm_c, s=22, edgecolors='#505050', linewidths=0.5, zorder=9)
ax.scatter(m_over_h, m_over_y, marker='s', s=9, color='#ff0000', zorder=9, clip_on=False)
ax.scatter(m_conv_h, np.zeros(len(m_conv_h)), marker='s', s=6, color='#ff0000', zorder=9, clip_on=False)
ax.set_yticks([0, 0.5, 1, 1.5, 2], labels=['0.0', '0.5', '1.0', '1.5', '2.0'])
grid(ax, [0.5, 1, 1.5, 2], ts=mini_gt)
ax2 = twin(ax, '#ee5522')
ax2.set_ylim(50, 99.9)
sns.lineplot(x=m_h, y=m_rh, ax=ax2, color='#ee5522', lw=2)
ax2.set_yticks([50, 61, 73, 84, 96])
ax2.set_ylabel('')

ax = mini(230, 305)
ax.set_ylim(1011.7, 1018.1)
for i in range(16):
    ax.fill_between(m_h[i:i + 2], 1011.7, m_pres[i:i + 2], color=m_pcol[i], ec=m_pcol[i], lw=0.6, zorder=1)
sns.lineplot(x=m_h, y=m_pres, ax=ax, color='black', lw=2, zorder=4)
ax.set_yticks([1012, 1014, 1016, 1018])
grid(ax, [1012, 1014, 1016], ts=mini_gt)
right_axis(ax, [1012, 1014, 1016, 1018])

ax = mini(316, 392)
ax.set_ylim(0, 20)
for i in range(16):
    c = m_wpal[m_wcol[i]]
    ax.fill_between(m_h[i:i + 2], 0, m_wind[i:i + 2], color=c, ec=c, lw=0.6, zorder=1)
sns.lineplot(x=m_h, y=m_wind, ax=ax, color='#1010a0', lw=2, zorder=4)
ax.hlines(m_gust, m_h, m_h + 1, color='#ff0000', lw=1.2, zorder=4)
ax.scatter([0.8], [19.7], s=8, color='#ff0000', zorder=9, clip_on=False)
ax.set_yticks([0, 5, 10, 15, 20])
grid(ax, [5, 10, 15], ts=mini_gt)
right_axis(ax, [0, 18, 36, 54, 72], functions=(lambda v: v * 3.6, lambda k: k / 3.6))

ax = mini(398, 423)
ax.set_ylim(-1, 1)
ax.set_yticks([])
mrad = np.deg2rad(m_dir)
ax.quiver(m_h, np.zeros(len(m_h)), np.sin(mrad), np.cos(mrad), angles='uv', pivot='middle',
          scale=5.5, scale_units='inches', color='#1414a0', width=0.014,
          headwidth=3, headlength=3, headaxislength=2.8, zorder=5)
grid(ax, [], ts=mini_gt)

ax = mini(436, 514, face='#82c3ee')
ax.set_yscale('function', functions=(fb, ib))
ax.set_ylim(0, 15.4)
for vals, col in [(m_b01, 'white'), (m_b25, '#c8c8c8'), (m_b45, '#969696'),
                  (m_b65, '#5a5a5a'), (m_b79, 'black'), (m_top, '#a82828')]:
    sns.scatterplot(x=m_h, y=vals, ax=ax, color=col, s=20, linewidth=0, zorder=5)
ax.set_yticks([0, 0.5, 2, 7, 15], labels=['0.0', '0.5', '2.0', '7.0', '15.0'])
ax.set_ylabel('')
grid(ax, [0.5, 2, 7], ts=mini_gt)
ax2 = twin(ax, '#ff8c00')
ax2.set_yscale('function', functions=(fv, iv))
ax2.set_ylim(0, 104)
sns.lineplot(x=m_h, y=m_vis, ax=ax2, color='#ff9900', lw=2)
ax2.set_yticks([0, 1, 5, 20, 100], labels=['0', '1', '5', '20', '100'])
ax2.set_ylabel('')

ax = mini(523, 602, face='#87cefa')
ax.set_ylim(0, 8)
ax.fill_between(m_h, 0, m_high, color='white', lw=0, zorder=1)
ax.fill_between(m_h, 0, m_mid, color='#9a9a9a', lw=0, zorder=1.1)
ax.fill_between(m_h, 0, m_low, color='#5c5c5c', lw=0, zorder=1.2)
ax.fill_between(m_h, 0, m_vlow, color='#3c3c3c', lw=0, zorder=1.3)
ax.set_yticks([0, 2, 4, 6, 8])
ax2 = twin(ax, '#ff8c00')
ax2.set_ylim(0, 1)
ax2.bar(m_h, m_fog, width=0.45, color='#ffb400', lw=0, zorder=2)
ax2.set_yticks([0, 0.25, 0.5, 0.75, 1], labels=['0', '0.25', '0.5', '0.75', '1'])
grid(ax2, [0.25, 0.5, 0.75], ts=mini_gt)

# ---------------- legend texts and leader lines ----------------
frect(10, 505, 57, 517, '#87cefa', z=1)
frect(10, 550, 52, 562, '#87cefa', z=1)
legend_items = [
    (6, 15, 'Czas lokalny', 'black'), (6, 26, '(CET/CEST)', 'black'),
    (6, 43, 'Temperatura gruntu', '#b01010'), (28, 53, 'max/min', '#b01010'),
    (6, 64, 'Temperatura:', 'black'), (13, 77, 'punkt środkowy', '#ff0000'),
    (28, 87, 'max/min', '#ffc8c8'), (10, 99, 'odczuwana', '#0000dd'),
    (28, 108, 'max/min', '#a8dcf4'), (6, 120, 'Temp. punktu rosy', '#6a5acd'),
    (6, 137, 'Opad powyżej skali', '#ff0000'), (6, 151, 'Wilgotność względna', '#ee5522'),
    (6, 166, 'Wystąpienie burzy', 'black'), (6, 179, 'Deszcz:', '#00a000'),
    (49, 179, 'max', '#00a000'), (49, 191, 'średni', '#00a000'),
    (6, 202, 'Śnieg:', '#2040d0'), (49, 202, 'max', '#2040d0'),
    (49, 212, 'średni', '#2040d0'), (6, 223, 'Wystąpienie opadu', '#ff0000'),
    (6, 237, 'konwekcyjnego', '#ff0000'), (6, 263, 'Ciśnienie', 'black'),
    (6, 277, 'zredukowane', 'black'), (6, 290, 'do poziomu morza', 'black'),
    (6, 318, 'Wiatr na 10m:', 'black'), (10, 334, 'poryw powyżej skali', '#ff0000'),
    (10, 348, 'max porywy wiatru', '#ff0000'), (10, 368, 'prędkość wiatru', '#000080'),
    (10, 381, 'w środku obszaru', '#000080'), (10, 410, 'kierunek wiatru', '#000080'),
    (6, 429, 'Wierzchołek chmur', '#a52a2a'), (6, 445, 'Podstawa chmur*', 'black'),
    (6, 456, 'o pokryciu', 'black'), (11, 468, '> 7.9 okt.', 'black'),
    (11, 479, '> 6.5 okt.', '#505050'), (11, 490, '> 4.5 okt.', '#909090'),
    (11, 500, '> 2.5 okt.', '#d0d0d0'), (11, 511, '> 0.1 okt.', 'white'),
    (6, 527, 'Widzialność', '#ff8c00'), (6, 543, 'Chmury:', 'black'),
    (11, 556, 'wysokie', 'white'), (11, 569, 'średnie', '#a0a0a0'),
    (11, 582, 'niskie', '#404040'), (11, 593, 'bardzo niskie', '#303030'),
    (6, 605, 'Mgła', '#ffb400'), (6, 622, 'Czas uniwersalny (UTC)', 'black'),
]
for x, y, s, c in legend_items:
    ftext(x, y, s, color=c, fontsize=7.7, zorder=3)

leaders = [
    ([(66, 15), (132, 15), (157, 41)], 'black'),
    ([(100, 43), (118, 43), (150, 95)], '#b01010'),
    ([(90, 77), (114, 77)], '#ff0000'), ([(131, 77), (136, 78), (150, 100)], '#ff0000'),
    ([(66, 99), (114, 99)], '#0000dd'), ([(131, 99), (140, 106)], '#0000dd'),
    ([(92, 119), (114, 119)], '#6a5acd'), ([(131, 118), (142, 114)], '#6a5acd'),
    ([(99, 137), (146, 137), (146, 146)], '#ff0000'),
    ([(105, 151), (112, 151)], '#ee5522'), ([(128, 151), (140, 163)], '#ee5522'),
    ([(93, 166), (112, 166)], 'black'), ([(128, 166), (139, 172)], 'black'),
    ([(70, 179), (140, 179), (140, 173)], '#00a000'),
    ([(80, 191), (143, 191)], '#00a000'),
    ([(70, 201), (112, 201)], '#2040d0'), ([(128, 201), (160, 172)], '#2040d0'),
    ([(80, 212), (133, 212), (163, 187)], '#2040d0'),
    ([(98, 223), (142, 223), (147, 218)], '#ff0000'),
    ([(52, 263), (132, 263), (137, 260)], 'black'),
    ([(110, 335), (117, 335)], '#ff0000'), ([(130, 335), (138, 317)], '#ff0000'),
    ([(104, 348), (132, 348), (147, 340)], '#ff0000'),
    ([(90, 367), (137, 367)], '#000080'),
    ([(85, 411), (140, 411)], '#000080'),
    ([(103, 430), (137, 431), (183, 448)], '#a52a2a'),
    ([(57, 468), (135, 467), (192, 456)], 'black'),
    ([(57, 480), (140, 480)], '#505050'),
    ([(57, 491), (132, 491), (143, 498)], '#909090'),
    ([(57, 501), (132, 501), (143, 507)], '#c8c8c8'),
    ([(57, 511), (132, 511)], '#87cefa'),
    ([(66, 527), (128, 527), (173, 463)], '#ff8c00'),
    ([(53, 557), (187, 557)], '#87cefa'),
    ([(57, 569), (193, 569)], '#a0a0a0'),
    ([(38, 582), (123, 582)], '#404040'),
    ([(73, 593), (143, 593), (153, 597)], '#303030'),
    ([(28, 605), (218, 605), (218, 600)], '#ffb400'),
    ([(136, 622), (147, 622), (158, 612)], 'black'),
]
for pts, c in leaders:
    fline(pts, c)

fig.savefig('out.png', dpi=100)
